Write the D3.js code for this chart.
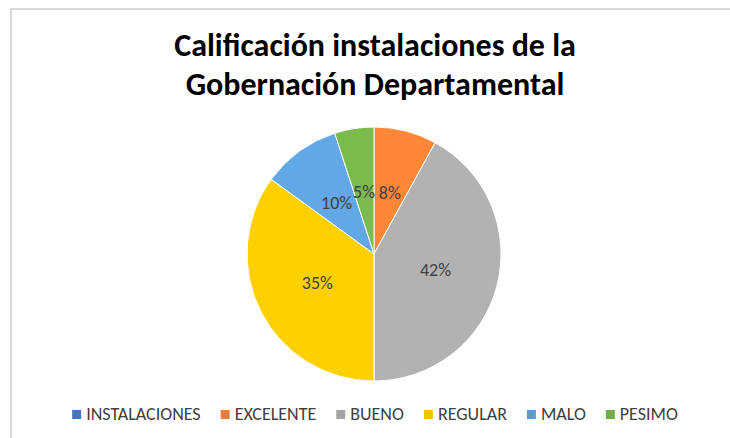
<!DOCTYPE html>
<html><head><meta charset="utf-8">
<script src="https://cdn.jsdelivr.net/npm/d3@7"></script>
<style>body{margin:0;background:#fff;} svg{display:block;}</style>
</head><body>
<svg id="c" width="730" height="438"></svg>
<script>
const titleLines = ["Calificación instalaciones de la", "Gobernación Departamental"];
const categories = ["INSTALACIONES", "EXCELENTE", "BUENO", "REGULAR", "MALO", "PESIMO"];
const values = [0, 8, 42, 35, 10, 5];
const colors = ["#4472C4", "#ED7D31", "#A5A5A5", "#FFC000", "#5B9BD5", "#70AD47"];

const svg = d3.select("#c");
const W = 730, H = 438;
const cx = 374, cy = 254, R = 127;
const font = "Carlito, Calibri, 'Liberation Sans Narrow', 'Liberation Sans', sans-serif";

// border
svg.append("path").attr("d", `M11,${H} L11,9 L${W},9`).attr("fill","none")
  .attr("stroke","#d9d9d9").attr("stroke-width",2);

// title
svg.append("text").attr("x", 375).attr("text-anchor","middle")
  .attr("font-family", font).attr("font-weight","bold").attr("font-size", 32).attr("fill","#000")
  .selectAll("tspan").data(titleLines).join("tspan")
  .attr("x", 375).attr("y", (d,i)=> 56 + i*39).text(d=>d);

// gradients
const defs = svg.append("defs");
categories.forEach((c,i)=>{
  const base = d3.color(colors[i]);
  const g = defs.append("linearGradient").attr("id","g"+i)
    .attr("gradientUnits","userSpaceOnUse").attr("x1",0).attr("y1",cy-R).attr("x2",0).attr("y2",cy+R);
  g.append("stop").attr("offset","0%").attr("stop-color", base.brighter(0.22));
  g.append("stop").attr("offset","100%").attr("stop-color", base.darker(0.22));
});

const data = categories.map((c,i)=>({c, v: values[i], i}));
const pie = d3.pie().value(d=>d.v).sort(null);
const arcs = pie(data).filter(a=>a.data.v>0);
const arc = d3.arc().innerRadius(0).outerRadius(R);
const labelArc = d3.arc().innerRadius(R*0.5).outerRadius(R*0.5);

const g = svg.append("g").attr("transform",`translate(${cx},${cy})`);
g.selectAll("path").data(arcs).join("path")
  .attr("d", arc).attr("fill", d=>`url(#g${d.data.i})`)
  .attr("stroke","#fff").attr("stroke-width",1);

const fmt = d3.format(".0%");
g.selectAll("text").data(arcs).join("text")
  .attr("transform", d=>`translate(${labelArc.centroid(d)})`)
  .attr("text-anchor","middle").attr("dy","0.35em")
  .attr("font-family", font).attr("font-size", 18).attr("fill","#404040")
  .text(d=>fmt(d.data.v/100));

// legend
const lg = svg.append("g");
const items = lg.selectAll("g").data(data).join("g");
items.append("rect").attr("width",9).attr("height",9).attr("y",-10).attr("fill", d=>colors[d.i]);
items.append("text").attr("x",14).attr("y",0).attr("font-family", font).attr("font-size", 18)
  .attr("fill","#404040").text(d=>d.c);
let x = 0;
items.each(function(){
  const w = this.querySelector("text").getComputedTextLength();
  d3.select(this).attr("transform",`translate(${x},0)`);
  x += 14 + w + 20;
});
x -= 20;
lg.attr("transform",`translate(${375 - x/2},420)`);
</script>
</body></html>
